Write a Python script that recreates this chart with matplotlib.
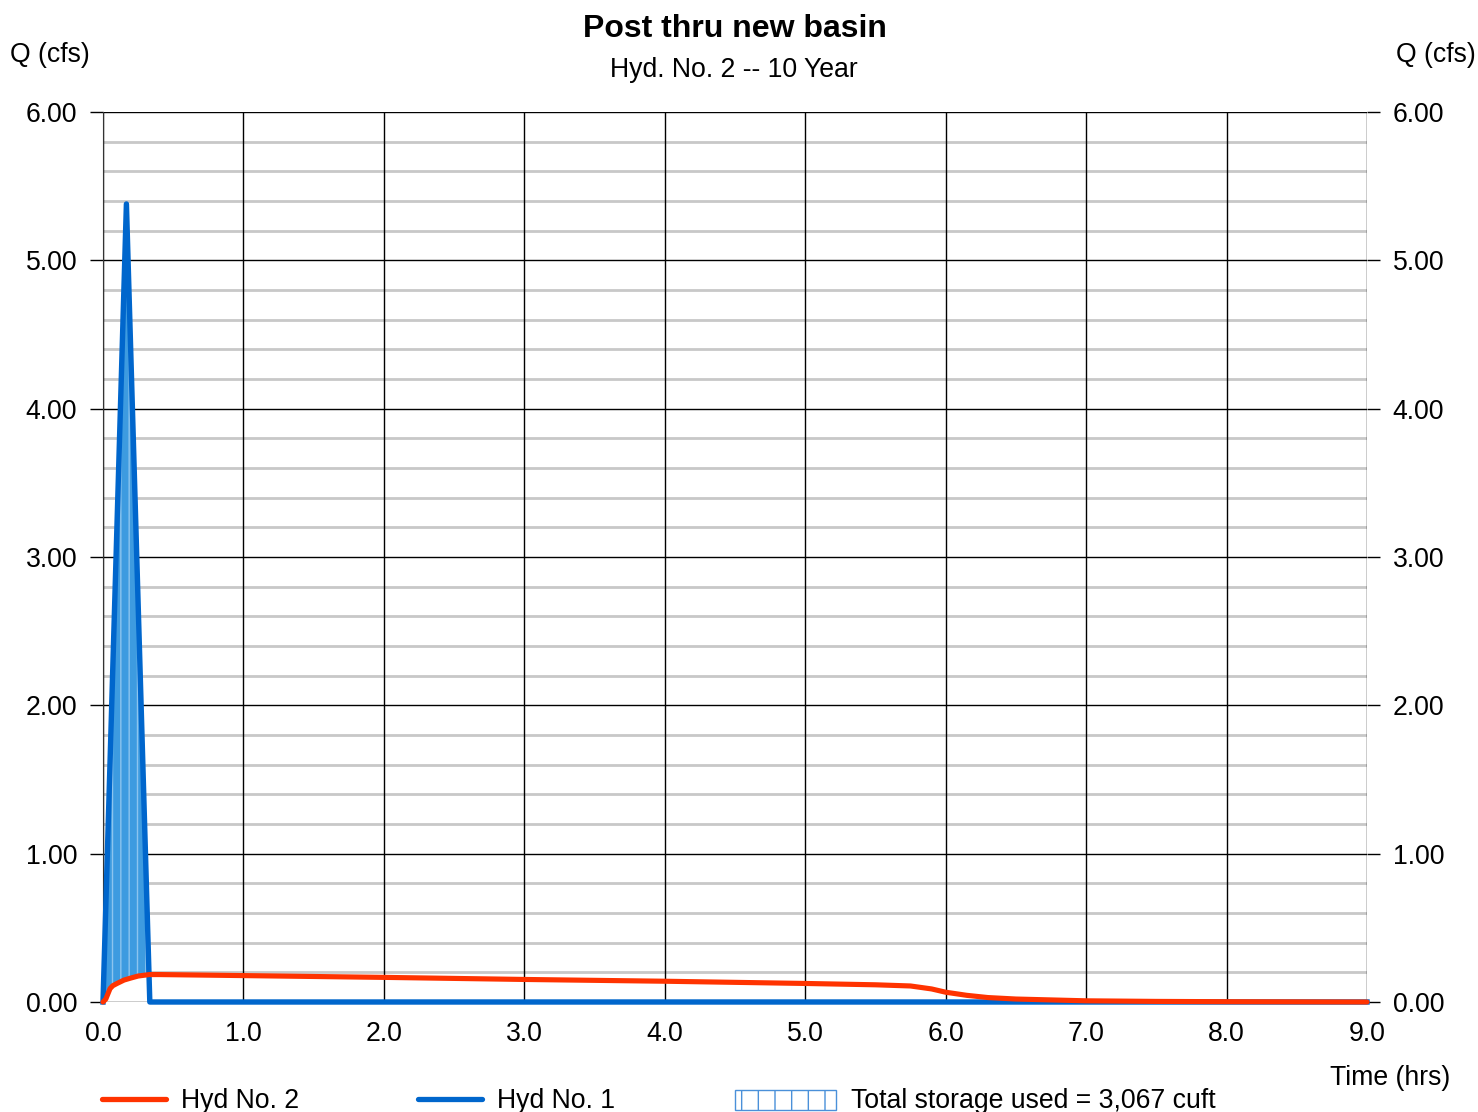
import numpy as np
import matplotlib
matplotlib.use("Agg")
import matplotlib.pyplot as plt
from matplotlib.lines import Line2D
from matplotlib.patches import Rectangle

# ---- data ----
hyd1_t = [0.0, 0.1667, 0.3333, 9.0]
hyd1_q = [0.0, 5.38, 0.0, 0.0]

hyd2_t = [0.0, 0.02, 0.05, 0.07, 0.10, 0.15, 0.20, 0.25, 0.33, 0.40, 1.0, 2.0, 3.0, 4.0,
          5.0, 5.5, 5.75, 5.9, 6.0, 6.15, 6.3, 6.5, 7.0, 7.5, 8.0, 9.0]
hyd2_q = [0.0, 0.02, 0.09, 0.11, 0.125, 0.148, 0.162, 0.175, 0.185, 0.185, 0.178, 0.166,
          0.152, 0.140, 0.125, 0.116, 0.108, 0.088, 0.066, 0.045, 0.030, 0.020, 0.008,
          0.004, 0.002, 0.0]

x_ticks = [0, 1, 2, 3, 4, 5, 6, 7, 8, 9]
x_labels = ["0.0", "1.0", "2.0", "3.0", "4.0", "5.0", "6.0", "7.0", "8.0", "9.0"]
y_ticks = [0, 1, 2, 3, 4, 5, 6]
y_labels = ["0.00", "1.00", "2.00", "3.00", "4.00", "5.00", "6.00"]

title = "Post thru new basin"
subtitle = "Hyd. No. 2 -- 10 Year"
storage_label = "Total storage used = 3,067 cuft"

# ---- style ----
plt.rcParams['font.family'] = ['Liberation Sans', 'DejaVu Sans']
plt.rcParams['hatch.linewidth'] = 1.0
RED = '#ff3300'
BLUE = '#0066cc'
FILL = '#3d9be0'
FS = 19.2
W, H = 1478, 1112

def fy(py):
    return 1 - py / H

fig = plt.figure(figsize=(W / 100, H / 100), dpi=100)
ax = fig.add_axes([103/W, fy(1002), 1264/W, 890/H])
ax.set_xlim(0, 9)
ax.set_ylim(0, 6)

# minor horizontal grid
for yv in np.arange(0.2, 6.0, 0.2):
    if abs(yv - round(yv)) > 1e-6:
        ax.axhline(yv, color='#c8c8c8', lw=2.0, zorder=0)
for yv in y_ticks:
    ax.axhline(yv, color='black', lw=1.0, zorder=1)
for xv in x_ticks:
    ax.axvline(xv, color='black', lw=1.0, zorder=1)

# fill between inflow and outflow
grid_t = np.linspace(0.0, hyd1_t[2], 400)
b = np.interp(grid_t, hyd1_t, hyd1_q)
r = np.interp(grid_t, hyd2_t, hyd2_q)
ax.fill_between(grid_t, r, b, where=b >= r, interpolate=True, facecolor=FILL,
                edgecolor='#8cc4ef', hatch='||', linewidth=0, zorder=2)

ax.plot(hyd1_t, hyd1_q, color=BLUE, lw=3.9, zorder=3, solid_joinstyle='round',
        clip_on=False)
ax.plot(hyd2_t, hyd2_q, color=RED, lw=3.7, zorder=4, solid_capstyle='round',
        clip_on=False)

for s in ax.spines.values():
    s.set_visible(False)
ax.spines['left'].set_visible(True)
ax.spines['left'].set_color('#333333')

ax.set_xticks(x_ticks)
ax.set_xticklabels(x_labels, fontsize=FS)
ax.set_yticks(y_ticks)
ax.set_yticklabels(y_labels, fontsize=FS)
ax.tick_params(axis='x', length=0, pad=14)
ax.tick_params(axis='y', length=9.5, width=1.0, pad=9, left=True, right=True,
               labelleft=True, labelright=True)

# texts
fig.text(735/W, fy(37), title, ha='center', va='baseline', fontsize=23,
         fontweight='bold')
fig.text(734/W, fy(77), subtitle, ha='center', va='baseline', fontsize=FS)
fig.text(10/W, fy(62), "Q (cfs)", ha='left', va='baseline', fontsize=FS)
fig.text(1476/W, fy(62), "Q (cfs)", ha='right', va='baseline', fontsize=FS)
fig.text(1450/W, fy(1085), "Time (hrs)", ha='right', va='baseline', fontsize=FS)

# legend
ly = fy(1099)
tb = fy(1108)
fig.add_artist(Line2D([102/W, 166/W], [ly, ly], color=RED, lw=3.8,
                      solid_capstyle='round'))
fig.text(181/W, tb, "Hyd No. 2", ha='left', va='baseline', fontsize=FS)
fig.add_artist(Line2D([418/W, 482/W], [ly, ly], color=BLUE, lw=3.8,
                      solid_capstyle='round'))
fig.text(497/W, tb, "Hyd No. 1", ha='left', va='baseline', fontsize=FS)
fig.add_artist(Rectangle((735/W, fy(1110)), 101/W, 20/H,
                         facecolor='white', edgecolor='#4a90d9', hatch='|', lw=1.0,
                         transform=fig.transFigure))
fig.text(851/W, tb, storage_label, ha='left', va='baseline', fontsize=FS)

fig.savefig("out.png", dpi=100)
